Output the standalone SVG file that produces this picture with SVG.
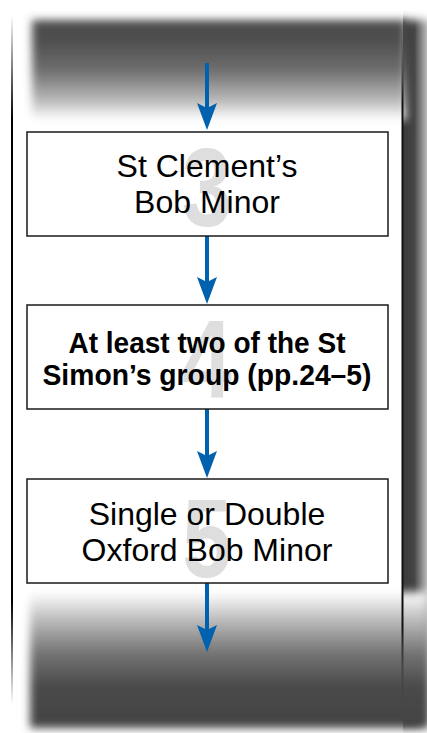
<svg xmlns="http://www.w3.org/2000/svg" width="427" height="733" viewBox="0 0 427 733">
<style>
.box{fill:#fff;stroke:#1a1a1a;stroke-width:1.5}
.t{font-family:"Liberation Sans",Arial,sans-serif;font-size:32px;fill:#000;text-anchor:middle}
.tb{font-family:"Liberation Sans",Arial,sans-serif;font-size:30px;font-weight:bold;fill:#000;text-anchor:middle}
.num{font-family:"Liberation Sans",Arial,sans-serif;font-size:112px;font-weight:bold;fill:#dedede;text-anchor:middle}
.shaft{stroke:#0061ae;stroke-width:4;fill:none}
.head{fill:#0061ae}
</style>
<defs>
<filter id="blur" x="-10%" y="-10%" width="120%" height="120%"><feGaussianBlur stdDeviation="4"/></filter>
<filter id="blurY" x="-5%" y="-5%" width="110%" height="110%"><feGaussianBlur stdDeviation="0 4"/></filter>
<linearGradient id="gTop" x1="0" y1="0" x2="0" y2="1">
<stop offset="0" stop-color="#4c4c4c"/><stop offset="0.2" stop-color="#4e4e4e"/><stop offset="0.5" stop-color="#6e6e6e"/><stop offset="0.8" stop-color="#b8b8b8"/><stop offset="1" stop-color="#ffffff"/>
</linearGradient>
<linearGradient id="gBot" x1="0" y1="0" x2="0" y2="1">
<stop offset="0" stop-color="#ffffff"/><stop offset="0.2" stop-color="#bdbdbd"/><stop offset="0.45" stop-color="#747474"/><stop offset="0.7" stop-color="#494949"/><stop offset="1" stop-color="#434343"/>
</linearGradient>
<linearGradient id="gRight" x1="0" y1="0" x2="1" y2="0">
<stop offset="0" stop-color="#3a3a3a"/><stop offset="0.45" stop-color="#454545"/><stop offset="1" stop-color="#c4c4c4"/>
</linearGradient>
<linearGradient id="gLine" x1="0" y1="0" x2="0" y2="1">
<stop offset="0" stop-color="#fff"/><stop offset="0.15" stop-color="#000"/><stop offset="0.85" stop-color="#000"/><stop offset="1" stop-color="#fff"/>
</linearGradient>
<linearGradient id="gLineR" x1="0" y1="0" x2="0" y2="1">
<stop offset="0" stop-color="#444" stop-opacity="0"/><stop offset="0.12" stop-color="#111"/><stop offset="0.88" stop-color="#111"/><stop offset="1" stop-color="#444" stop-opacity="0"/>
</linearGradient>
</defs>
<rect width="427" height="733" fill="#fff"/>
<g id="frame">
<rect x="403" y="20" width="25" height="706" fill="url(#gRight)" filter="url(#blurY)"/>
<rect x="32" y="20" width="374" height="100" fill="url(#gTop)" filter="url(#blur)"/>
<rect x="30" y="592" width="398" height="136" fill="url(#gBot)" filter="url(#blur)"/>
<rect x="11" y="15" width="2" height="690" fill="url(#gLine)"/>
<rect x="401.5" y="20" width="2" height="690" fill="url(#gLineR)"/>
</g>
<g id="connectors">
<line class="shaft" x1="207" y1="63" x2="207" y2="112"/>
<path class="head" d="M207,130 L197,103 L207,108 L217,103 Z"/>
<line class="shaft" x1="207" y1="236" x2="207" y2="286"/>
<path class="head" d="M207,304 L197,277 L207,282 L217,277 Z"/>
<line class="shaft" x1="207" y1="409" x2="207" y2="460"/>
<path class="head" d="M207,478 L197,451 L207,456 L217,451 Z"/>
<line class="shaft" x1="207" y1="583" x2="207" y2="634"/>
<path class="head" d="M207,652 L197,625 L207,630 L217,625 Z"/>
</g>
<g id="node3">
<rect class="box" x="27" y="132" width="361" height="104"/>
<text class="num" transform="translate(207,226) scale(0.8,1)">3</text>
<text class="t" x="207" y="177">St Clement’s</text>
<text class="t" x="207" y="213">Bob Minor</text>
</g>
<g id="node4">
<rect class="box" x="27" y="305" width="361" height="104"/>
<text class="num" transform="translate(207,398) scale(0.8,1)">4</text>
<text class="tb" x="207" y="353" textLength="277" lengthAdjust="spacingAndGlyphs">At least two of the St</text>
<text class="tb" x="207" y="385" textLength="329" lengthAdjust="spacingAndGlyphs">Simon’s group (pp.24–5)</text>
</g>
<g id="node5">
<rect class="box" x="27" y="479" width="361" height="104"/>
<text class="num" transform="translate(207,577) scale(0.8,1)">5</text>
<text class="t" x="207" y="525">Single or Double</text>
<text class="t" x="207" y="561">Oxford Bob Minor</text>
</g>
</svg>
